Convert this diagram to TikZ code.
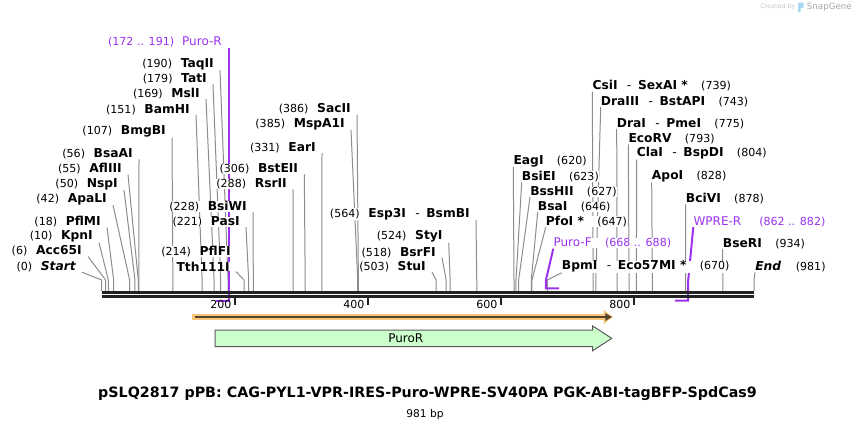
\documentclass[tikz,border=0pt]{standalone}
\usepackage{fontspec}
\setmainfont{DejaVu Sans}
\usetikzlibrary{arrows.meta,backgrounds}
\definecolor{sitegray}{RGB}{140,140,140}
\definecolor{bardark}{RGB}{34,34,34}
\definecolor{primerpurple}{RGB}{155,50,240}
\definecolor{orfglow}{RGB}{250,200,120}
\definecolor{orfline}{RGB}{85,68,45}
\definecolor{featgreen}{RGB}{204,255,204}
\definecolor{featedge}{RGB}{90,90,90}
\definecolor{snapblue}{RGB}{168,216,240}
\newcommand{\bpnum}[1]{{\mdseries\fontsize{8.3}{10}\selectfont(#1)}}
\newcommand{\dsh}{\hspace{7pt}{\mdseries -}\hspace{5pt}}
\tikzset{
        % Enzyme labels
        lab/.style={inner sep=0pt, fill=white, font=\fontsize{9.2}{11}\selectfont\bfseries},
        % Primer labels
        plab/.style={inner sep=0pt, fill=white, text=primerpurple, font=\fontsize{9}{11}\selectfont},
        % Cut site lines
        site/.style={draw=sitegray, line width=0.75pt},
        primer/.style={draw=primerpurple, line width=1.5pt},
        tie/.style={to path={-- (\tikztotarget |- 0,280) -- (\tikztotarget)}},
        ticklab/.style={inner sep=0pt, anchor=east, font=\fontsize{8.3}{10}\selectfont}
}
\begin{document}
\begin{tikzpicture}[x=0.75pt, y=-0.75pt]
    \useasboundingbox (0,0) rectangle (856,430);
    % sites on the bar
    \foreach \n/\p in {start/0, acc/6, kpn/10, pflmi/18, apali/42, nsp/50, afl/55, bsaai/56,
        bmgbi/107, bamhi/151, msli/169, tati/179, taqii/190, tth/214, pasi/221, bsiwi/228,
        rsrii/288, bsteii/306, eari/331, mspa/385, sacii/386, stui/503, bsrfi/518, styi/524,
        esp/564, eagi/620, bsiei/623, bsshii/627, bsai/646, pfoi/647, bpmi/670, csii/739,
        draiii/743, drai/775, ecorv/793, clai/804, apoi/828, bcivi/878, bseri/934, endl/981}
        \coordinate (\n-s) at ({101.7+0.665*\p},291);

    % labels left of their lines
    \node[lab, anchor=east] (start) at (76,266.7) {\bpnum{0}\hspace{6.5pt}\itshape Start};
    \node[lab, anchor=east] (acc) at (82,251) {\bpnum{6}\hspace{6.5pt}Acc65I};
    \node[lab, anchor=east] (kpn) at (93,236.7) {\bpnum{10}\hspace{6.5pt}KpnI};
    \node[lab, anchor=east] (pflmi) at (101,221.7) {\bpnum{18}\hspace{6.5pt}PflMI};
    \node[lab, anchor=east] (apali) at (107,199) {\bpnum{42}\hspace{6.5pt}ApaLI};
    \node[lab, anchor=east] (nsp) at (118,184) {\bpnum{50}\hspace{6.5pt}NspI};
    \node[lab, anchor=east] (afl) at (122,169) {\bpnum{55}\hspace{6.5pt}AflIII};
    \node[lab, anchor=east] (bsaai) at (133,154) {\bpnum{56}\hspace{6.5pt}BsaAI};
    \node[lab, anchor=east] (bmgbi) at (166,131.7) {\bpnum{107}\hspace{6.5pt}BmgBI};
    \node[lab, anchor=east] (bamhi) at (190,109.3) {\bpnum{151}\hspace{6.5pt}BamHI};
    \node[lab, anchor=east] (msli) at (200,93.3) {\bpnum{169}\hspace{6.5pt}MslI};
    \node[lab, anchor=east] (tati) at (207,79) {\bpnum{179}\hspace{6.5pt}TatI};
    \node[lab, anchor=east] (taqii) at (214,64) {\bpnum{190}\hspace{6.5pt}TaqII};
    \node[lab, anchor=east] (pflfi) at (231,251.7) {\bpnum{214}\hspace{6.5pt}PflFI};
    \node[lab, anchor=east] (tth) at (230,266.7) {Tth111I};
    \node[lab, anchor=east] (pasi) at (240,221.7) {\bpnum{221}\hspace{6.5pt}PasI};
    \node[lab, anchor=east] (bsiwi) at (247,206.7) {\bpnum{228}\hspace{6.5pt}BsiWI};
    \node[lab, anchor=east] (rsrii) at (287,184) {\bpnum{288}\hspace{6.5pt}RsrII};
    \node[lab, anchor=east] (bsteii) at (298.3,169) {\bpnum{306}\hspace{6.5pt}BstEII};
    \node[lab, anchor=east] (eari) at (316,147.3) {\bpnum{331}\hspace{6.5pt}EarI};
    \node[lab, anchor=east] (mspa) at (345,124) {\bpnum{385}\hspace{6.5pt}MspA1I};
    \node[lab, anchor=east] (sacii) at (351,109) {\bpnum{386}\hspace{6.5pt}SacII};
    \node[lab, anchor=east] (stui) at (426,266.7) {\bpnum{503}\hspace{6.5pt}StuI};
    \node[lab, anchor=east] (bsrfi) at (436,252.3) {\bpnum{518}\hspace{6.5pt}BsrFI};
    \node[lab, anchor=east] (styi) at (442.7,236.7) {\bpnum{524}\hspace{6.5pt}StyI};
    \node[lab, anchor=east] (esp) at (470,214) {\bpnum{564}\hspace{6.5pt}Esp3I\dsh BsmBI};

    % labels right of their lines
    \node[lab, anchor=west] (eagi) at (513.3,161) {EagI\hspace{10pt}\bpnum{620}};
    \node[lab, anchor=west] (bsiei) at (521.7,176.7) {BsiEI\hspace{10pt}\bpnum{623}};
    \node[lab, anchor=west] (bsshii) at (530,191.7) {BssHII\hspace{10pt}\bpnum{627}};
    \node[lab, anchor=west] (bsai) at (537.7,206.7) {BsaI\hspace{10pt}\bpnum{646}};
    \node[lab, anchor=west] (pfoi) at (545.7,221.7) {PfoI *\hspace{10pt}\bpnum{647}};
    \node[lab, anchor=west] (bpmi) at (561.7,266.7) {BpmI\dsh Eco57MI *\hspace{10pt}\bpnum{670}};
    \node[lab, anchor=west] (csii) at (592.3,86) {CsiI\dsh SexAI *\hspace{10pt}\bpnum{739}};
    \node[lab, anchor=west] (draiii) at (600.7,101.7) {DraIII\dsh BstAPI\hspace{10pt}\bpnum{743}};
    \node[lab, anchor=west] (drai) at (616.7,123.3) {DraI\dsh PmeI\hspace{10pt}\bpnum{775}};
    \node[lab, anchor=west] (ecorv) at (628.3,139) {EcoRV\hspace{10pt}\bpnum{793}};
    \node[lab, anchor=west] (clai) at (636.7,153.3) {ClaI\dsh BspDI\hspace{10pt}\bpnum{804}};
    \node[lab, anchor=west] (apoi) at (651.7,176.7) {ApoI\hspace{10pt}\bpnum{828}};
    \node[lab, anchor=west] (bcivi) at (685.7,198.7) {BciVI\hspace{10pt}\bpnum{878}};
    \node[lab, anchor=west] (bseri) at (722.7,243.3) {BseRI\hspace{10pt}\bpnum{934}};
    \node[lab, anchor=west] (endl) at (755,266.7) {{\itshape End}\hspace{11pt}\bpnum{981}};

    % primer labels
    \node[plab, anchor=east] (purorev) at (222,42.3) {\bpnum{172 .. 191}\hspace{6pt}Puro-R};
    \node[plab, anchor=west] (purof) at (553.3,243.3) {Puro-F\hspace{10pt}\bpnum{668 .. 688}};
    \node[plab, anchor=west] (wprer) at (693.3,221.7) {WPRE-R\hspace{13.5pt}\bpnum{862 .. 882}};
    \coordinate (purorev-a) at ({101.7+0.665*172},300.7);
    \coordinate (purorev-b) at ({101.7+0.665*191},300.7);
    \coordinate (purof-a) at ({101.7+0.665*668},288.3);
    \coordinate (purof-b) at ({101.7+0.665*688},288.3);
    \coordinate (wprer-a) at ({101.7+0.665*862},300.7);
    \coordinate (wprer-b) at ({101.7+0.665*882},300.7);

    \begin{scope}[on background layer]
        % cut site lines
        \foreach \n in {start, acc, kpn, pflmi, apali, nsp, afl, bsaai, bmgbi, bamhi, msli, tati,
            taqii, tth, pasi, bsiwi, rsrii, bsteii, eari, mspa, sacii, stui, bsrfi, styi, esp}
            \draw[site] ([xshift=4.5pt]\n.south east) to[tie] (\n-s);
        \foreach \n in {eagi, bsiei, bsshii, bsai, pfoi, bpmi, csii, draiii, drai, ecorv, clai,
            apoi, bcivi, bseri, endl}
            \draw[site] (\n.south west) to[tie] (\n-s);
        % primers
        \draw[primer] (purorev.south east -| purorev-b) -- (purorev-b) -- (purorev-a);
        \draw[primer] (purof.south west) -- (purof-a |- 0,280) -- (purof-a) -- (purof-b);
        \draw[primer] (wprer.south west) -- (wprer-b |- 0,280) -- (wprer-b) -- (wprer-a);
    \end{scope}

    % sequence bar and ticks
    \draw[bardark, line width=2.25pt] (start-s |- 0,292.5) -- (endl-s |- 0,292.5);
    \draw[bardark, line width=1.8pt] (start-s |- 0,296.5) -- (endl-s |- 0,296.5);
    \foreach \t in {200,400,600,800} {
        \draw[bardark, line width=1.2pt] ({101.7+0.665*\t},297.5) -- ++(0,7);
        \node[ticklab] (tick\t) at ({101.7+0.665*\t-3},304) {\t};
    }

    % features
    \coordinate (orf-a) at (192,317);
    \coordinate (orf-b) at (613,317);
    \draw[orfglow, line width=4.5pt, -{Triangle[length=7pt, width=10pt]}] (orf-a) -- (orf-b);
    \draw[orfline, line width=1.1pt, -{Triangle[length=5pt, width=5.5pt]}] ([xshift=2pt]orf-a) -- ([xshift=-0.8pt]orf-b);
    \draw[fill=featgreen, draw=featedge, line width=0.75pt] (215,330) -- (592.7,330) -- (592.7,326)
        -- (611.7,338.3) -- (592.7,350.7) -- (592.7,346.7) -- (215,346.7) -- cycle;
    \node[font=\fontsize{9}{11}\selectfont] (puror) at (405.8,338.3) {PuroR};

    % title
    \node[font=\fontsize{10.7}{12}\selectfont\bfseries, anchor=base] (title) at (427.5,397)
        {pSLQ2817 pPB: CAG-PYL1-VPR-IRES-Puro-WPRE-SV40PA PGK-ABI-tagBFP-SpdCas9};
    \node[font=\fontsize{8}{10}\selectfont, anchor=base] (size) at (425,417) {981 bp};

    % credit
    \node[text=black!22, inner sep=0pt, anchor=west, font=\fontsize{4.8}{6}\selectfont] (credit) at (760,7) {Created by};
    \fill[snapblue] (798,2.5) -- (803.5,2.5) -- (803.5,7.5) -- (800.5,8.5) -- (800.5,12) -- (798,12) -- cycle;
    \node[text=black!35, inner sep=0pt, anchor=west, font=\fontsize{6.5}{8}\selectfont] (brand) at (806.7,7) {SnapGene};
\end{tikzpicture}
\end{document}
